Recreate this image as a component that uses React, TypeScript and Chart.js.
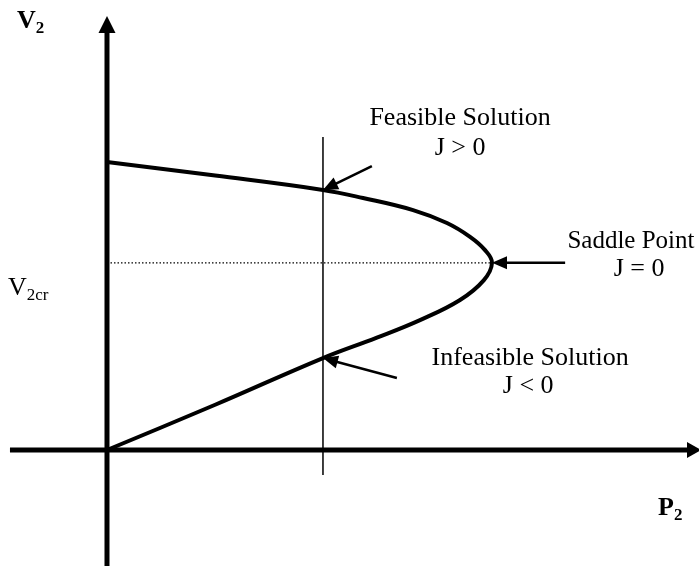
import React, { useEffect, useRef } from "react";
import { Chart, registerables } from "chart.js";
Chart.register(...registerables);

// Nose curve (P2 normalised so the nose is at 1, V2 normalised so V2(P2=0) = 1)
const curveP = [0, 0.281, 0.561, 0.665, 0.795, 0.883, 0.943, 0.982, 1.0, 0.979, 0.917, 0.813, 0.701, 0.561, 0.281, 0];
const curveV = [1.0, 0.953, 0.903, 0.875, 0.833, 0.788, 0.74, 0.694, 0.65, 0.59, 0.521, 0.451, 0.39, 0.319, 0.157, 0];
const V2cr = 0.65;
const noseP = 1.0;
const loadP = 0.561;
const loadLineV = [1.087, -0.087];

const X_MIN = -0.2779;
const X_MAX = 1.5377;
const Y_MIN = -0.4028;
const Y_MAX = 1.5625;

const FONT = '"Liberation Serif", "Times New Roman", serif';

type Arrow = { from: [number, number]; to: [number, number] };
const annotationArrows: Arrow[] = [
  { from: [0.688, 0.986], to: [0.561, 0.903] },
  { from: [1.19, 0.65], to: [1.0, 0.65] },
  { from: [0.753, 0.25], to: [0.561, 0.319] },
];

type Label = { text: string; p: number; v: number; size: number };
const annotationLabels: Label[] = [
  { text: "Feasible Solution", p: 0.917, v: 1.128, size: 26 },
  { text: "J > 0", p: 0.917, v: 1.024, size: 26 },
  { text: "Saddle Point", p: 1.361, v: 0.7, size: 25 },
  { text: "J = 0", p: 1.382, v: 0.604, size: 26 },
  { text: "Infeasible Solution", p: 1.099, v: 0.295, size: 26 },
  { text: "J < 0", p: 1.094, v: 0.198, size: 26 },
];

function drawHead(ctx: CanvasRenderingContext2D, x1: number, y1: number, x2: number, y2: number, len: number, half: number) {
  const a = Math.atan2(y2 - y1, x2 - x1);
  ctx.beginPath();
  ctx.moveTo(x2, y2);
  ctx.lineTo(x2 - len * Math.cos(a) + half * Math.sin(a), y2 - len * Math.sin(a) - half * Math.cos(a));
  ctx.lineTo(x2 - len * Math.cos(a) - half * Math.sin(a), y2 - len * Math.sin(a) + half * Math.cos(a));
  ctx.closePath();
  ctx.fill();
}

const overlayPlugin = {
  id: "overlay",
  afterDraw(chart: any) {
    const ctx: CanvasRenderingContext2D = chart.ctx;
    const xs = chart.scales.x;
    const ys = chart.scales.y;
    const px = (p: number) => xs.getPixelForValue(p);
    const py = (v: number) => ys.getPixelForValue(v);
    ctx.save();
    ctx.fillStyle = "#000";
    ctx.strokeStyle = "#000";

    // axis arrow heads
    const ox = px(0);
    const oy = py(0);
    drawHead(ctx, ox, py(1.2), ox, py(Y_MAX) + 16, 17, 8.5);
    drawHead(ctx, px(1.2), oy, px(X_MAX) + 2, oy, 14, 8);

    // annotation arrows
    ctx.lineWidth = 2.5;
    ctx.lineCap = "butt";
    annotationArrows.forEach((a) => {
      const x1 = px(a.from[0]);
      const y1 = py(a.from[1]);
      const x2 = px(a.to[0]);
      const y2 = py(a.to[1]);
      const ang = Math.atan2(y2 - y1, x2 - x1);
      ctx.beginPath();
      ctx.moveTo(x1, y1);
      ctx.lineTo(x2 - 10 * Math.cos(ang), y2 - 10 * Math.sin(ang));
      ctx.stroke();
      drawHead(ctx, x1, y1, x2, y2, 15, 6.5);
    });

    // annotation labels
    ctx.textAlign = "center";
    ctx.textBaseline = "alphabetic";
    annotationLabels.forEach((l) => {
      ctx.font = `${l.size}px ${FONT}`;
      ctx.fillText(l.text, px(l.p), py(l.v));
    });

    // axis titles
    ctx.textAlign = "left";
    const sub = (main: string, subText: string, x: number, y: number, size: number, bold: boolean) => {
      ctx.font = `${bold ? "bold " : ""}${size}px ${FONT}`;
      ctx.fillText(main, x, y);
      const w = ctx.measureText(main).width;
      ctx.font = `${bold ? "bold " : ""}${Math.round(size * 0.64)}px ${FONT}`;
      ctx.fillText(subText, x + w, y + 5);
    };
    sub("V", "2", 17, 28, 26, true);
    sub("V", "2cr", 8, py(V2cr) + 32, 26, false);
    sub("P", "2", 658, 515, 26, true);
    ctx.restore();
  },
};

export default function App() {
  const ref = useRef<HTMLCanvasElement | null>(null);
  useEffect(() => {
    if (!ref.current) return;
    const curve = curveP.map((p, i) => ({ x: p, y: curveV[i] }));
    const chart = new Chart(ref.current, {
      type: "scatter",
      data: {
        datasets: [
          {
            label: "curve",
            data: curve,
            showLine: true,
            borderColor: "#000",
            borderWidth: 4,
            tension: 0.4,
            pointRadius: 0,
          },
          {
            label: "Vcr",
            data: [
              { x: 0, y: V2cr },
              { x: noseP, y: V2cr },
            ],
            showLine: true,
            borderColor: "#000",
            borderWidth: 1.3,
            borderDash: [1.5, 2],
            pointRadius: 0,
          },
          {
            label: "load",
            data: [
              { x: loadP, y: loadLineV[0] },
              { x: loadP, y: loadLineV[1] },
            ],
            showLine: true,
            borderColor: "#000",
            borderWidth: 1.5,
            pointRadius: 0,
          },
          {
            label: "yaxis",
            data: [
              { x: 0, y: Y_MIN },
              { x: 0, y: 1.48 },
            ],
            showLine: true,
            borderColor: "#000",
            borderWidth: 5,
            pointRadius: 0,
          },
          {
            label: "xaxis",
            data: [
              { x: -0.252, y: 0 },
              { x: 1.51, y: 0 },
            ],
            showLine: true,
            borderColor: "#000",
            borderWidth: 5,
            pointRadius: 0,
          },
        ],
      },
      options: {
        animation: false,
        responsive: false,
        events: [],
        layout: { padding: 0 },
        plugins: { legend: { display: false }, tooltip: { enabled: false } },
        scales: {
          x: { type: "linear", display: false, min: X_MIN, max: X_MAX },
          y: { type: "linear", display: false, min: Y_MIN, max: Y_MAX },
        },
      },
      plugins: [overlayPlugin],
    });
    return () => chart.destroy();
  }, []);
  return (
    <div style={{ position: "fixed", left: 0, top: 0, width: 699, height: 566, background: "#fff" }}>
      <canvas ref={ref} width={699} height={566} style={{ width: 699, height: 566 }} />
    </div>
  );
}
